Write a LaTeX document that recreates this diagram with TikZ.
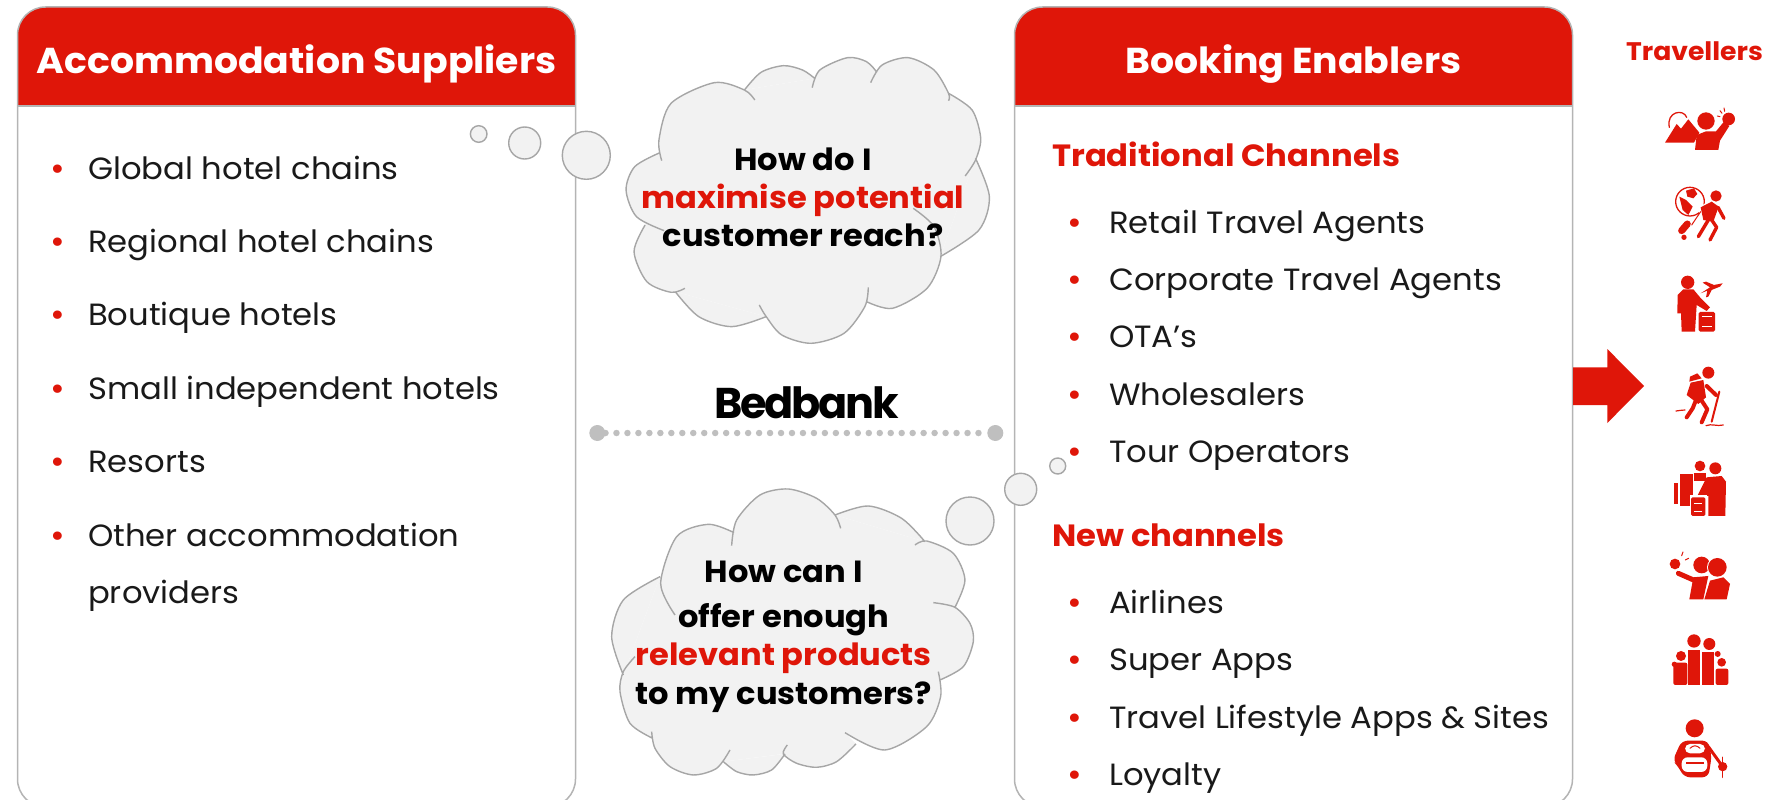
\documentclass[tikz,border=0pt]{standalone}
\usepackage{fontspec}
\setmainfont[FakeStretch=1.05]{Poppins}
\newfontfamily\bedbankfont[LetterSpace=-5]{Poppins}
\usetikzlibrary{positioning}
\definecolor{brandred}{HTML}{DF1609}
\definecolor{framegray}{HTML}{B4B4B4}
\definecolor{bubblegray}{HTML}{A6A6A6}
\definecolor{bubblefill}{HTML}{F2F2F2}
\definecolor{dotgray}{HTML}{BFBFBF}
\newcommand{\itemdot}[1]{\llap{\textcolor{brandred}{\fontsize{34}{34}\selectfont\raisebox{-1pt}{•}}\hspace{#1}}}
\tikzset{
  panel/.style={draw=framegray,line width=1.5pt,fill=white,rounded corners=28pt,minimum width=558pt,minimum height=800pt,inner sep=0pt,
    path picture={\fill[brandred,sharp corners] (path picture bounding box.north west) rectangle ([yshift=-99pt]path picture bounding box.north east);
      \draw[framegray,line width=1.5pt,sharp corners] ([yshift=-99pt]path picture bounding box.north west) -- ([yshift=-99pt]path picture bounding box.north east);}},
  paneltitle/.style={text=white,font=\fontsize{36}{36}\selectfont\bfseries,inner sep=0pt,anchor=base},
  listplain/.style={font=\fontsize{30.7}{31}\selectfont,text=black!90,inner sep=0pt,text height=24pt,text depth=8pt},
  listitem/.style={listplain,execute at begin node=\itemdot{#1}},
  listitem/.default=23pt,
  channelhead/.style={font=\fontsize{30.7}{31}\selectfont\bfseries,text=brandred,inner sep=0pt,anchor=base west},
  bubble/.style={draw=bubblegray,line width=1.4pt,fill=bubblefill},
  bubbletext/.style={font=\fontsize{30.6}{40}\selectfont\bfseries,align=center,inner sep=0pt},
  bubblecircle/.style={circle,draw=bubblegray,line width=1.4pt,fill=bubblefill,inner sep=0pt},
  bankdot/.style={circle,fill=dotgray,minimum size=16pt,inner sep=0pt},
  iconfill/.style={fill=brandred,draw=none},
  iconline/.style={draw=brandred,line cap=round,line join=round}
}
\begin{document}
\begin{tikzpicture}[x=1pt,y=-1pt]
\useasboundingbox (0,0) rectangle (1783,800);

% panels
\node[panel] (suppliers) at (296.5,407) {};
\node[panel] (enablers) at (1293.5,407) {};
\node[paneltitle] (supplierstitle) at (296.5,73.5) {Accommodation Suppliers};
\node[paneltitle] (enablerstitle) at (1293.5,73.5) {Booking Enablers};

% left list
\begin{scope}[node distance=41pt]
\node[listitem,anchor=base west] (hs1) at (88,179) {Global hotel chains};
\node[listitem,below=of hs1.south west,anchor=north west] (hs2) {Regional hotel chains};
\node[listitem,below=of hs2.south west,anchor=north west] (hs3) {Boutique hotels};
\node[listitem,below=of hs3.south west,anchor=north west] (hs4) {Small independent hotels};
\node[listitem,below=of hs4.south west,anchor=north west] (hs5) {Resorts};
\node[listitem,below=of hs5.south west,anchor=north west] (hs6) {Other accommodation};
\node[listplain,below=25.5pt of hs6.south west,anchor=north west] (hs7) {providers};
\end{scope}

% right lists
\node[channelhead] (trad) at (1052,166) {Traditional Channels};
\begin{scope}[node distance=25pt]
\node[listitem=27pt,anchor=base west] (tc1) at (1109,233) {Retail Travel Agents};
\node[listitem=27pt,below=of tc1.south west,anchor=north west] (tc2) {Corporate Travel Agents};
\node[listitem=27pt,below=of tc2.south west,anchor=north west] (tc3) {OTA’s};
\node[listitem=27pt,below=of tc3.south west,anchor=north west] (tc4) {Wholesalers};
\node[listitem=27pt,below=of tc4.south west,anchor=north west] (tc5) {Tour Operators};
\end{scope}
\node[channelhead] (newch) at (1052,546) {New channels};
\begin{scope}[node distance=25.1pt]
\node[listitem=27pt,anchor=base west] (nc1) at (1109,613) {Airlines};
\node[listitem=27pt,below=of nc1.south west,anchor=north west] (nc2) {Super Apps};
\node[listitem=27pt,below=of nc2.south west,anchor=north west] (nc3) {Travel Lifestyle Apps \& Sites};
\node[listitem=27pt,below=of nc3.south west,anchor=north west] (nc4) {Loyalty};
\end{scope}

% upper cloud
\begin{scope}[shift={(460,40)},x=0.346pt,y=-0.3333pt]
\fill[bubblefill] (578,338) -- (822,150) -- (1025,115) -- (1205,97) -- (1412,160) -- (1490,355) -- (1388,650) -- (1175,785) -- (885,830) -- (622,755) -- (535,555) -- cycle;
\draw[bubble]
  plot[smooth] coordinates {(590,572) (510,530) (480,450) (505,380) (578,338)}
  plot[smooth] coordinates {(583,362) (575,300) (610,190) (735,128) (822,150) (852,180)}
  plot[smooth] coordinates {(822,150) (870,97) (935,77) (990,90) (1025,115)}
  plot[smooth] coordinates {(1018,143) (1040,90) (1120,53) (1175,65) (1205,97)}
  plot[smooth] coordinates {(1187,128) (1220,75) (1295,53) (1370,90) (1412,160) (1412,182)}
  plot[smooth] coordinates {(1412,160) (1480,210) (1505,295) (1490,360) (1460,408)}
  plot[smooth] coordinates {(1490,355) (1530,470) (1500,570) (1388,650)}
  plot[smooth] coordinates {(1310,505) (1370,560) (1390,650) (1350,745) (1250,805) (1175,785)}
  plot[smooth] coordinates {(1180,742) (1170,800) (1110,880) (1015,910) (930,885) (885,830) (865,795)}
  plot[smooth] coordinates {(885,830) (785,860) (690,830) (622,755)}
  plot[smooth] coordinates {(650,745) (610,757) (540,725) (503,635) (535,555)};
\end{scope}
\node[bubblecircle,minimum size=48pt] (reachbig) at (586.3,155.3) {};
\node[bubblecircle,minimum size=32pt] (reachmid) at (524.7,143) {};
\node[bubblecircle,minimum size=16.6pt] (reachsmall) at (478.7,134) {};
\node[bubbletext] (reachtext) at (803,197.5) {How do I\\[-2pt]\textcolor{brandred}{maximise potential}\\[-2pt]customer reach?};

% lower cloud
\begin{scope}[shift={(580,380)},x=0.3333pt,y=-0.3333pt]
\fill[bubblefill] (240,590) -- (462,458) -- (765,405) -- (1035,485) -- (1125,682) -- (1080,900) -- (795,1058) -- (828,1092) -- (610,1122) -- (430,1145) -- (218,1075) -- (130,885) -- cycle;
\draw[bubble]
  plot[smooth] coordinates {(130,885) (95,770) (130,660) (240,590)}
  plot[smooth] coordinates {(285,705) (242,610) (290,470) (385,433) (462,458)}
  plot[smooth] coordinates {(455,497) (470,420) (540,345) (625,327) (710,355) (765,405) (782,445)}
  plot[smooth] coordinates {(765,405) (865,378) (965,415) (1035,485)}
  plot[smooth] coordinates {(1005,495) (1040,483) (1120,520) (1155,600) (1125,682)}
  plot[smooth] coordinates {(1060,668) (1125,682) (1170,730) (1180,785) (1150,860) (1080,900)}
  plot[smooth] coordinates {(1075,875) (1082,950) (1040,1040) (915,1110) (795,1058)}
  plot[smooth] coordinates {(828,1092) (770,1145) (710,1162) (650,1150) (610,1122) (622,1095)}
  plot[smooth] coordinates {(615,1122) (575,1170) (520,1185) (470,1175) (430,1145)}
  plot[smooth] coordinates {(450,1110) (410,1165) (340,1185) (270,1160) (225,1105) (215,1055)}
  plot[smooth] coordinates {(218,1075) (150,1030) (120,935) (130,875) (165,830)};
\end{scope}
\node[bubblecircle,minimum size=48pt] (offerbig) at (970,521) {};
\node[bubblecircle,minimum size=32pt] (offermid) at (1020.7,489.3) {};
\node[bubblecircle,minimum size=16pt] (offersmall) at (1057.7,466) {};
\node[bubbletext] (offertext) at (783.8,637) {How can I\\[5pt]offer enough\\[-2pt]\textcolor{brandred}{relevant products}\\[-1pt]to my customers?};

% bedbank
\node[font=\fontsize{43}{43}\selectfont\bedbankfont\bfseries,inner sep=0pt,anchor=base] (bedbank) at (806.7,418) {Bedbank};
\node[bankdot] (bankleft) at (597.3,433) {};
\node[bankdot] (bankright) at (995.3,433) {};
\draw[dotgray,line width=6.5pt,line cap=round,dash pattern=on 0pt off 10.97pt,shorten >=3pt] (bankleft) -- (bankright);

% arrow and travellers
\fill[brandred] (1573,367.3) -- (1607.3,367.3) -- (1607.3,349) -- (1644,386) -- (1607.3,423) -- (1607.3,405) -- (1573,405) -- cycle;
\node[font=\fontsize{25.4}{25.4}\selectfont\bfseries,text=brandred,inner sep=0pt,anchor=base] (travellers) at (1694.5,61) {Travellers};

% icons
\begin{scope}[shift={(1580,20)},x=0.3333pt,y=-0.3333pt]
  % selfie
  \fill[iconfill] (255,368) -- (290,312) -- (303,326) -- (325,298) -- (358,338) -- (342,368) -- cycle;
  \draw[iconline,line width=1.3pt] (268,322) .. controls (258,275) and (310,265) .. (320,292);
  \fill[white] (378,303) circle (30pt*0.3333);
  \fill[iconfill] (378,303) circle (26pt*0.3333);
  \fill[iconfill] (345,390) -- (350,345) -- (378,334) -- (408,334) -- (432,305) -- (448,318) -- (420,362) -- (415,390) -- cycle;
  \fill[iconfill] (446,297) circle (19pt*0.3333);
  \draw[iconline,line width=1pt] (420,272) -- (426,280) (432,264) -- (434,274) (412,288) -- (420,290);
  % globe and suitcase
  \draw[iconline,line width=1.3pt] (330,545) circle (43pt*0.3333);
  \fill[iconfill] (318,512) -- (342,505) -- (352,522) -- (340,535) -- (322,530) -- cycle;
  \fill[iconfill] (298,530) -- (318,540) -- (338,560) -- (325,585) -- (308,570) -- cycle;
  \fill[white] (355,565) -- (395,535) -- (425,560) -- (400,620) -- (365,620) -- cycle;
  \fill[iconfill] (408,528) circle (17pt*0.3333);
  \fill[iconfill] (362,562) -- (395,545) -- (416,560) -- (400,605) -- (370,600) -- cycle;
  \draw[iconline,line width=3.4pt] (385,600) -- (355,650) (395,600) -- (410,622) -- (390,660) (414,562) -- (432,595);
  \draw[iconline,line width=1pt] (335,615) -- (362,575);
  \draw[iconline,line width=7pt] (305,632) -- (322,612);
  \fill[iconfill] (312,652) circle (8pt*0.3333);
  % plane and suitcase
  \fill[iconfill] (323,787) circle (20pt*0.3333);
  \fill[iconfill] (292,880) -- (293,825) -- (310,808) -- (340,808) -- (360,832) -- (390,862) -- (380,873) -- (350,855) -- (345,935) -- (305,935) -- (303,880) -- cycle;
  \fill[iconfill,rounded corners=1.5pt] (356,876) rectangle (405,935);
  \fill[white] (366,888) rectangle (396,892);
  \fill[white] (366,918) rectangle (396,922);
  \fill[iconfill] (362,820) -- (390,802) -- (368,788) -- (378,785) -- (402,795) -- (428,790) -- (420,800) -- (395,810) -- (385,830) -- (378,832) -- (382,812) -- cycle;
\end{scope}
\begin{scope}[shift={(1660,360)},x=0.3333pt,y=-0.3333pt]
  % hiker
  \fill[iconfill] (145,38) circle (18pt*0.3333);
  \fill[iconfill] (90,50) -- (112,40) -- (125,55) -- (88,65) -- cycle;
  \fill[iconfill] (92,68) -- (130,60) -- (138,112) -- (115,132) -- (80,105) -- cycle;
  \draw[iconline,line width=4pt] (140,78) -- (168,105) (108,120) -- (98,145) -- (80,172) (125,122) -- (142,148) -- (125,187);
  \draw[iconline,line width=2pt] (178,95) -- (155,185);
  \draw[iconline,line width=1.2pt] (48,153) .. controls (58,147) and (65,155) .. (75,150);
  \draw[iconline,line width=1.2pt] (138,197) .. controls (155,190) and (170,200) .. (190,195);
\end{scope}
\begin{scope}[shift={(1580,420)},x=0.3333pt,y=-0.3333pt]
  % front desk
  \fill[iconfill] (360,138) circle (16pt*0.3333);
  \fill[iconfill] (406,145) circle (18pt*0.3333);
  \fill[iconfill] (300,162) rectangle (338,258);
  \fill[iconfill] (282,190) rectangle (295,253);
  \fill[iconfill] (342,160) rectangle (378,182);
  \fill[iconfill] (380,172) -- (425,168) -- (438,185) -- (436,288) -- (385,288) -- (385,228) -- (352,228) -- cycle;
  \fill[white] (330,226) rectangle (380,292);
  \fill[iconfill,rounded corners=1.5pt] (333,232) rectangle (376,288);
  \fill[white] (343,250) rectangle (366,253);
  \fill[white] (343,272) rectangle (366,275);
  % couple
  \fill[iconfill] (285,432) circle (16pt*0.3333);
  \draw[iconline,line width=1pt] (305,407) -- (309,396) (316,420) -- (326,415);
  \draw[iconline,line width=5pt] (295,460) -- (345,482);
  \fill[iconfill] (365,435) circle (25pt*0.3333);
  \fill[iconfill] (328,538) -- (340,472) -- (385,468) -- (370,538) -- cycle;
  \fill[white] (412,442) circle (31pt*0.3333);
  \fill[iconfill] (412,442) circle (28pt*0.3333);
  \fill[iconfill] (373,538) -- (390,482) -- (430,472) -- (450,492) -- (440,538) -- cycle;
  % family
  \fill[iconfill] (342,663) circle (20pt*0.3333);
  \fill[iconfill] (388,672) circle (18pt*0.3333);
  \fill[iconfill] (303,708) circle (15pt*0.3333);
  \fill[iconfill] (425,727) circle (13pt*0.3333);
  \fill[iconfill] (283,733) circle (8pt*0.3333);
  \fill[iconfill] (413,702) circle (9pt*0.3333);
  \fill[iconfill] (325,690) rectangle (360,795);
  \fill[iconfill] (365,695) rectangle (403,795);
  \fill[iconfill,rounded corners=2pt] (280,728) rectangle (322,795);
  \fill[iconfill,rounded corners=2pt] (407,746) rectangle (445,795);
  % backpacker
  \fill[iconfill] (344,925) circle (27pt*0.3333);
  \fill[iconfill,rounded corners=6pt] (278,1022) -- (305,962) -- (385,962) -- (395,1010) -- (385,1072) -- (312,1072) -- (295,1040) -- cycle;
  \draw[iconline,line width=3pt] (385,980) -- (428,1040);
  \fill[iconfill] (428,1040) circle (14pt*0.3333);
  \draw[iconline,line width=1.6pt] (428,1012) -- (428,1072);
  \fill[white,rounded corners=5pt] (315,972) rectangle (375,1000);
  \fill[white,rounded corners=6pt] (305,1012) rectangle (382,1056);
  \fill[iconfill] (318,1026) rectangle (372,1031);
  \draw[iconline,line width=1pt] (330,985) .. controls (340,975) and (350,975) .. (360,985);
\end{scope}
\end{tikzpicture}
\end{document}
